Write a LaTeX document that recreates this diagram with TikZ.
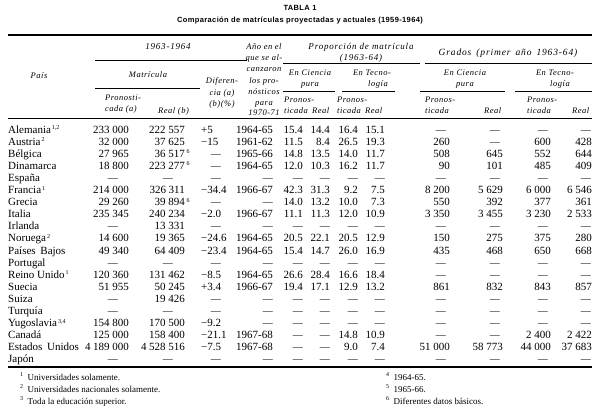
\documentclass[tikz,border=0pt]{standalone}
\usepackage{fontspec}
\setmainfont{Liberation Serif}
\newfontfamily\hdrf[LetterSpace=6]{Liberation Serif}
\newfontfamily\hdrw[LetterSpace=9]{Liberation Serif}
\newfontfamily\hdrg[LetterSpace=9]{Liberation Serif}
\newfontfamily\ttlf[LetterSpace=5]{Liberation Sans}
\newcommand\gp{\kern2.6pt}
\newcommand\wsp{\hspace{5pt}}
\newcommand\ssc[1]{\raisebox{3.5pt}{\fontsize{6}{6}\selectfont #1}}
\newcommand\ry[1]{133+12.1*#1}
% cell: #1 right x, #2 dash right x, #3 row, #4 value, #5 name
\newcommand\cel[5]{\def\tmpv{#4}\def\dashv{-}%
  \ifx\tmpv\dashv\node[dsh] (#5) at (#2,{\ry{#3}}) {—};%
  \else\node[num] (#5) at (#1,{\ry{#3}}) {#4};\fi}
\newcommand\rowA[7]{% row, label, pron, real, realsup, dif, año
  \node[lbl] (l#1) at (8,{\ry{#1}}) {#2};
  \cel{129}{118}{#1}{#3}{p#1}
  \cel{185}{173}{#1}{#4}{r#1}
  \node[supx] (s#1) at (r#1.base east) {#5};
  \def\tmpv{#6}\def\dashv{-}%
  \ifx\tmpv\dashv\node[dsh] (d#1) at (221,{\ry{#1}}) {—};%
  \else\node[lbl] (d#1) at (201,{\ry{#1}}) {#6};\fi
  \cel{273}{273}{#1}{#7}{a#1}}
\newcommand\rowB[9]{%
  \cel{303}{303}{#1}{#2}{c#1}
  \cel{330}{330}{#1}{#3}{e#1}
  \cel{358}{358}{#1}{#4}{f#1}
  \cel{385}{385}{#1}{#5}{g#1}
  \cel{450}{446}{#1}{#6}{h#1}
  \cel{503}{500}{#1}{#7}{i#1}
  \cel{551}{548}{#1}{#8}{j#1}
  \cel{592}{591}{#1}{#9}{k#1}}
\begin{document}
\begin{tikzpicture}[x=1pt,y=-1pt,
  num/.style={anchor=base east,inner sep=0pt,font=\fontsize{11}{13}\selectfont},
  dsh/.style={anchor=base east,inner sep=0pt,font=\fontsize{10}{13}\selectfont},
  lbl/.style={anchor=base west,inner sep=0pt,font=\fontsize{11}{13}\selectfont},
  supx/.style={anchor=base west,inner sep=0pt,xshift=1.5pt,yshift=3.5pt,font=\fontsize{6}{6}\selectfont},
  hd/.style={anchor=base,inner sep=0pt,font=\hdrf\itshape\fontsize{8.5}{10}\selectfont},
  hdw/.style={anchor=base,inner sep=0pt,font=\hdrw\itshape\fontsize{9}{10}\selectfont},
  hdg/.style={anchor=base,inner sep=0pt,font=\hdrg\itshape\fontsize{9.5}{10}\selectfont},
  hdl/.style={anchor=base west,inner sep=0pt,font=\hdrf\itshape\fontsize{8.5}{10}\selectfont},
  ttl/.style={anchor=base,inner sep=0pt,font=\ttlf\bfseries\fontsize{7.5}{9}\selectfont},
  fn/.style={anchor=base west,inner sep=0pt,font=\fontsize{9}{10}\selectfont},
  thick rule/.style={line width=1.1pt},
  thin rule/.style={line width=0.45pt}]
\useasboundingbox (0,0) rectangle (600,408);
% title
\node[ttl] (t1) at (300,10) {TABLA 1};
\node[ttl] (t2) at (300,22) {Comparación de matrículas proyectadas y actuales (1959-1964)};
% rules
\draw[thick rule] (8,35) -- (592,35);
\draw[thin rule] (95,60) -- (247,60);
\draw[thin rule] (95,88) -- (200,88);
\draw[thin rule] (283,63) -- (420,63);
\draw[thin rule] (425,63) -- (592,63);
\draw[thin rule] (283,91) -- (335,91);
\draw[thin rule] (342,91) -- (395,91);
\draw[thin rule] (420,91) -- (505,91);
\draw[thin rule] (515,91) -- (592,91);
\draw[thin rule] (8,118) -- (592,118);
\draw[thick rule] (8,367) -- (592,367);
% header
\node[hd] (hpais) at (39,78) {País};
\node[hdw] (h1963) at (168,49) {1963-1964};
\node[hd] (hmat) at (148,77) {Matrícula};
\node[hdl] (hp1) at (105,100) {Pronosti-};
\node[hdl] (hp2) at (105,111) {cada (a)};
\node[hdl] (hrb) at (158,113) {Real (b)};
\node[hd] (hd1) at (222,83) {Diferen-};
\node[hd] (hd2) at (222,95) {cia (a)};
\node[hd] (hd3) at (222,106) {(b)(\%)};
\node[hd] (ha1) at (264,49) {Año en el};
\node[hd] (ha2) at (264,60) {que se al-};
\node[hd] (ha3) at (264,71) {canzaron};
\node[hd] (ha4) at (264,83) {los pro-};
\node[hd] (ha5) at (264,94) {nósticos};
\node[hd] (ha6) at (264,105) {para};
\node[hd] (ha7) at (264,115) {1970-71};
\node[hdw] (hpr1) at (361,49) {Proporción de matrícula};
\node[hdw] (hpr2) at (361,60) {(1963-64)};
\node[hd] (hec1) at (310,75) {En Ciencia};
\node[hd] (hec2) at (310,86) {pura};
\node[hd] (het1) at (372,75) {En Tecno-};
\node[hd] (het2) at (378,86) {logía};
\node[hdl] (hq1) at (284,102) {Pronos-};
\node[hdl] (hq2) at (284,113) {ticada};
\node[hdl] (hq3) at (312,113) {Real};
\node[hdl] (hq4) at (337,102) {Pronos-};
\node[hdl] (hq5) at (337,113) {ticada};
\node[hdl] (hq6) at (365,113) {Real};
\node[hdg] (hg) at (508,55) {Grados\wsp(primer\wsp año\wsp 1963-64)};
\node[hd] (hgc1) at (465,75) {En Ciencia};
\node[hd] (hgc2) at (465,86) {pura};
\node[hd] (hgt1) at (555,75) {En Tecno-};
\node[hd] (hgt2) at (560,86) {logía};
\node[hdl] (hg1) at (425,102) {Pronos-};
\node[hdl] (hg2) at (425,113) {ticada};
\node[hdl] (hg3) at (484,113) {Real};
\node[hdl] (hg4) at (527,102) {Pronos-};
\node[hdl] (hg5) at (527,113) {ticada};
\node[hdl] (hg6) at (572,113) {Real};
% rows
\rowA{0}{Alemania\ssc{\,1,2}}{233\gp000}{222\gp557}{}{+5}{1964-65}
\rowB{0}{15.4}{14.4}{16.4}{15.1}{-}{-}{-}{-}
\rowA{1}{Austria\ssc{\,2}}{32\gp000}{37\gp625}{}{−15}{1961-62}
\rowB{1}{11.5}{8.4}{26.5}{19.3}{260}{-}{600}{428}
\rowA{2}{Bélgica}{27\gp965}{36\gp517}{6}{-}{1965-66}
\rowB{2}{14.8}{13.5}{14.0}{11.7}{508}{645}{552}{644}
\rowA{3}{Dinamarca}{18\gp800}{223\gp277}{6}{-}{1964-65}
\rowB{3}{12.0}{10.3}{16.2}{11.7}{90}{101}{485}{409}
\rowA{4}{España}{-}{-}{}{-}{-}
\rowB{4}{-}{-}{-}{-}{-}{-}{-}{-}
\rowA{5}{Francia\ssc{\,1}}{214\gp000}{326\gp311}{}{−34.4}{1966-67}
\rowB{5}{42.3}{31.3}{9.2}{7.5}{8\gp200}{5\gp629}{6\gp000}{6\gp546}
\rowA{6}{Grecia}{29\gp260}{39\gp894}{6}{-}{-}
\rowB{6}{14.0}{13.2}{10.0}{7.3}{550}{392}{377}{361}
\rowA{7}{Italia}{235\gp345}{240\gp234}{}{−2.0}{1966-67}
\rowB{7}{11.1}{11.3}{12.0}{10.9}{3\gp350}{3\gp455}{3\gp230}{2\gp533}
\rowA{8}{Irlanda}{-}{13\gp331}{}{-}{-}
\rowB{8}{-}{-}{-}{-}{-}{-}{-}{-}
\rowA{9}{Noruega\ssc{\,2}}{14\gp600}{19\gp365}{}{−24.6}{1964-65}
\rowB{9}{20.5}{22.1}{20.5}{12.9}{150}{275}{375}{280}
\rowA{10}{Países\kern2pt\ Bajos}{49\gp340}{64\gp409}{}{−23.4}{1964-65}
\rowB{10}{15.4}{14.7}{26.0}{16.9}{435}{468}{650}{668}
\rowA{11}{Portugal}{-}{-}{}{-}{-}
\rowB{11}{-}{-}{-}{-}{-}{-}{-}{-}
\rowA{12}{Reino Unido\ssc{\,1}}{120\gp360}{131\gp462}{}{−8.5}{1964-65}
\rowB{12}{26.6}{28.4}{16.6}{18.4}{-}{-}{-}{-}
\rowA{13}{Suecia}{51\gp955}{50\gp245}{}{+3.4}{1966-67}
\rowB{13}{19.4}{17.1}{12.9}{13.2}{861}{832}{843}{857}
\rowA{14}{Suiza}{-}{19\gp426}{}{-}{-}
\rowB{14}{-}{-}{-}{-}{-}{-}{-}{-}
\rowA{15}{Turquía}{-}{-}{}{-}{-}
\rowB{15}{-}{-}{-}{-}{-}{-}{-}{-}
\rowA{16}{Yugoslavia\ssc{\,3,4}}{154\gp800}{170\gp500}{}{−9.2}{-}
\rowB{16}{-}{-}{-}{-}{-}{-}{-}{-}
\rowA{17}{Canadá}{125\gp000}{158\gp400}{}{−21.1}{1967-68}
\rowB{17}{-}{-}{14.8}{10.9}{-}{-}{2\gp400}{2\gp422}
\rowA{18}{Estados\kern2pt\ Unidos}{4\gp189\gp000}{4\gp528\gp516}{}{−7.5}{1967-68}
\rowB{18}{-}{-}{9.0}{7.4}{51\gp000}{58\gp773}{44\gp000}{37\gp683}
\rowA{19}{Japón}{-}{-}{}{-}{-}
\rowB{19}{-}{-}{-}{-}{-}{-}{-}{-}
% footnotes
\node[fn] (f1) at (20,380) {\ssc{1}\ \ Universidades solamente.};
\node[fn] (f2) at (20,392) {\ssc{2}\ \ Universidades nacionales solamente.};
\node[fn] (f3) at (20,404) {\ssc{3}\ \ Toda la educación superior.};
\node[fn] (f4) at (386,380) {\ssc{4}\ \ 1964-65.};
\node[fn] (f5) at (386,392) {\ssc{5}\ \ 1965-66.};
\node[fn] (f6) at (386,404) {\ssc{6}\ \ Diferentes datos básicos.};
\end{tikzpicture}
\end{document}
